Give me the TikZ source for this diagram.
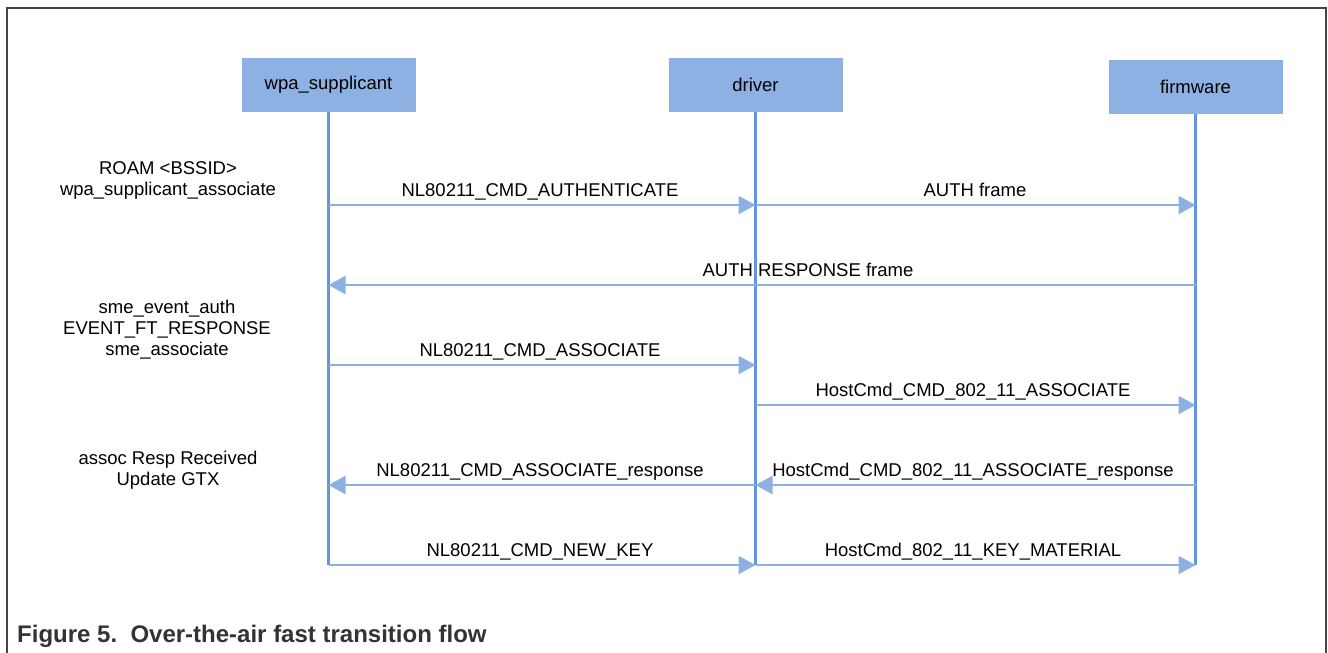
\documentclass[tikz,border=0pt]{standalone}
\usepackage{fontspec}
\setmainfont{Liberation Sans}
\usetikzlibrary{arrows.meta}
\definecolor{boxblue}{HTML}{8EB1E4}
\definecolor{lifeblue}{HTML}{6494DE}
\definecolor{arrowblue}{HTML}{8DB0E3}
\definecolor{framegray}{HTML}{444444}
\definecolor{captiongray}{HTML}{333333}
\tikzset{
  actor/.style={fill=boxblue, draw=none, minimum width=174pt, minimum height=54pt, inner sep=0pt, font=\fontsize{18.5}{22}\selectfont},
  lifeline/.style={draw=lifeblue, line width=3pt},
  msg/.style={draw=arrowblue, line width=2pt, -{Triangle[length=17pt,width=18pt]}},
  msglabel/.style={anchor=base, inner sep=0pt, font=\fontsize{18.5}{22}\selectfont},
  note/.style={align=center, inner sep=0pt, font=\fontsize{18.5}{21}\selectfont, anchor=base},
}
\begin{document}
\begin{tikzpicture}[x=1pt,y=-1pt]
\useasboundingbox (0,0) rectangle (1328,653);
\fill[white] (0,0) rectangle (1328,653);
% frame
\draw[framegray, line width=1.6pt] (7,653) -- (7,8) -- (1326,8) -- (1326,653);
% actors
\node[actor] (wpa) at (328.5,85) {wpa\_supplicant};
\node[actor] (drv) at (755.5,85) {driver};
\node[actor] (fw) at (1195.5,87) {firmware};
% lifeline ends
\coordinate (wend) at (328.5,565);
\coordinate (dend) at (755.5,565);
\coordinate (fend) at (1195.5,565);
\draw[lifeline] (wpa.south) -- (wend);
\draw[lifeline] (drv.south) -- (dend);
\draw[lifeline] (fw.south) -- (fend);
% message points
\foreach \n/\y in {1/205,2/285,3/365,4/405,5/485,6/565}{
  \coordinate (w\n) at (328.5,\y);
  \coordinate (d\n) at (755.5,\y);
  \coordinate (f\n) at (1195.5,\y);
}
\draw[msg] (w1) -- (d1);
\draw[msg] (d1) -- (f1);
\draw[msg] (f2) -- (w2);
\draw[msg] (w3) -- (d3);
\draw[msg] (d4) -- (f4);
\draw[msg] (f5) -- (d5);
\draw[msg] (d5) -- (w5);
\draw[msg] (w6) -- (d6);
\draw[msg] (d6) -- (f6);
% labels
\node[msglabel] (l1) at (540,196) {NL80211\_CMD\_AUTHENTICATE};
\node[msglabel] (l2) at (975,196) {AUTH frame};
\node[msglabel] (l3) at (808,276) {AUTH RESPONSE frame};
\node[msglabel] (l4) at (540,356) {NL80211\_CMD\_ASSOCIATE};
\node[msglabel] (l5) at (973,396) {HostCmd\_CMD\_802\_11\_ASSOCIATE};
\node[msglabel] (l6) at (540,476) {NL80211\_CMD\_ASSOCIATE\_response};
\node[msglabel] (l7) at (973,476) {HostCmd\_CMD\_802\_11\_ASSOCIATE\_response};
\node[msglabel] (l8) at (540,556) {NL80211\_CMD\_NEW\_KEY};
\node[msglabel] (l9) at (973,556) {HostCmd\_802\_11\_KEY\_MATERIAL};
% notes (base = baseline of last line)
\node[note] (n1) at (168,195) {ROAM <BSSID>\\wpa\_supplicant\_associate};
\node[note] (n2) at (167,355) {sme\_event\_auth\\EVENT\_FT\_RESPONSE\\sme\_associate};
\node[note] (n3) at (168,485) {assoc Resp Received\\Update GTX};
% caption
\node[anchor=base west, inner sep=0pt, text=captiongray, font=\fontsize{24}{28}\selectfont\bfseries] (cap) at (17,642) {Figure 5.\ \ Over-the-air fast transition flow};
\end{tikzpicture}
\end{document}
